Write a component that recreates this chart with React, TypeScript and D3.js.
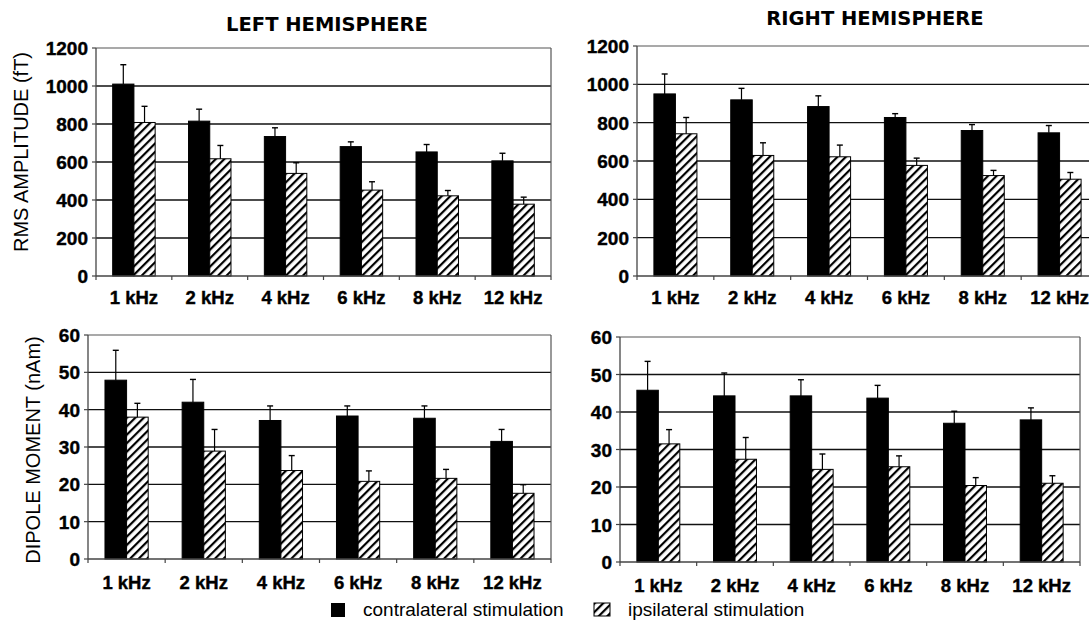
import * as d3 from 'd3';

const freqs = ['1 kHz', '2 kHz', '4 kHz', '6 kHz', '8 kHz', '12 kHz'];

// RMS amplitude (fT), mean and upper SD
const rmsLeftContra = [1010, 815, 734, 681, 653, 606];
const rmsLeftContraErr = [102, 63, 46, 25, 39, 40];
const rmsLeftIpsi = [808, 617, 540, 452, 422, 378];
const rmsLeftIpsiErr = [85, 70, 56, 44, 28, 37];
const rmsRightContra = [950, 919, 884, 827, 759, 747];
const rmsRightContraErr = [104, 60, 56, 20, 31, 38];
const rmsRightIpsi = [742, 629, 622, 577, 524, 505];
const rmsRightIpsiErr = [85, 66, 61, 38, 27, 35];

// dipole moment (nAm)
const dipLeftContra = [47.9, 42.0, 37.1, 38.3, 37.7, 31.5];
const dipLeftContraErr = [8.0, 6.1, 3.9, 2.7, 3.3, 3.2];
const dipLeftIpsi = [38.0, 28.9, 23.7, 20.8, 21.6, 17.6];
const dipLeftIpsiErr = [3.7, 5.8, 4.0, 2.8, 2.4, 2.3];
const dipRightContra = [45.8, 44.3, 44.3, 43.7, 37.0, 37.9];
const dipRightContraErr = [7.7, 6.1, 4.3, 3.4, 3.2, 3.2];
const dipRightIpsi = [31.5, 27.4, 24.7, 25.4, 20.4, 21.0];
const dipRightIpsiErr = [3.8, 5.8, 4.1, 2.9, 2.1, 2.0];

const rmsTicks = [0, 200, 400, 600, 800, 1000, 1200];
const dipTicks = [0, 10, 20, 30, 40, 50, 60];

const series = ['contra', 'ipsi'];
const legendLabels = ['contralateral stimulation', 'ipsilateral stimulation'];

const ARIAL = 'Arial, "Liberation Sans", Helvetica, sans-serif';
const TITLE_FONT = 'Verdana, "DejaVu Sans", sans-serif';

interface PanelProps {
  left: number;
  right: number;
  top: number;
  bottom: number;
  ticks: number[];
  contra: number[];
  contraErr: number[];
  ipsi: number[];
  ipsiErr: number[];
  labelOffset: number;
}

function Panel({ left, right, top, bottom, ticks, contra, contraErr, ipsi, ipsiErr, labelOffset }: PanelProps) {
  const x0 = d3.scaleBand<string>().domain(freqs).range([left, right]);
  const bw = x0.bandwidth();
  const x1 = d3.scaleBand<string>().domain(series).range([bw * 0.22, bw * 0.78]);
  const y = d3.scaleLinear().domain([0, ticks[ticks.length - 1]]).range([bottom, top]);

  const rows = freqs.map((f, i) => [
    { key: 'contra', f, v: contra[i], e: contraErr[i] },
    { key: 'ipsi', f, v: ipsi[i], e: ipsiErr[i] },
  ]).flat();

  return (
    <g>
      {ticks.slice(1, -1).map(t => (
        <line key={'g' + t} x1={left} x2={right} y1={y(t)} y2={y(t)} stroke="#111" strokeWidth={1.4} />
      ))}
      <line x1={left} x2={right} y1={y(ticks[ticks.length - 1])} y2={y(ticks[ticks.length - 1])} stroke="#555" strokeWidth={1.2} />
      <line x1={right} x2={right} y1={top} y2={bottom} stroke="#555" strokeWidth={1.2} />
      {rows.map(r => {
        const bx = x0(r.f)! + x1(r.key)!;
        const w = x1.bandwidth();
        const cx = bx + w / 2;
        return (
          <g key={r.key + r.f}>
            <rect x={bx} y={y(r.v)} width={w} height={bottom - y(r.v)}
              fill={r.key === 'contra' ? '#000' : 'url(#hatch)'} stroke="#000" strokeWidth={1} />
            <line x1={cx} x2={cx} y1={y(r.v)} y2={y(r.v + r.e)} stroke="#000" strokeWidth={1.2} />
            <line x1={cx - 3} x2={cx + 3} y1={y(r.v + r.e)} y2={y(r.v + r.e)} stroke="#000" strokeWidth={1.4} />
          </g>
        );
      })}
      <line x1={left} x2={left} y1={top} y2={bottom} stroke="#444" strokeWidth={1.3} />
      <line x1={left} x2={right} y1={bottom} y2={bottom} stroke="#444" strokeWidth={1.3} />
      {ticks.map(t => (
        <g key={'t' + t}>
          <line x1={left - 4} x2={left} y1={y(t)} y2={y(t)} stroke="#444" strokeWidth={1.2} />
          <text x={left - 8} y={y(t) + 7} textAnchor="end" fontFamily={ARIAL} fontWeight="bold" fontSize={19}
            stroke="#000" strokeWidth={0.4}>{t}</text>
        </g>
      ))}
      {d3.range(freqs.length + 1).map(i => (
        <line key={'xt' + i} x1={left + i * bw} x2={left + i * bw} y1={bottom} y2={bottom + 4} stroke="#444" strokeWidth={1.2} />
      ))}
      {freqs.map(f => (
        <text key={'xl' + f} x={x0(f)! + bw / 2} y={bottom + labelOffset} textAnchor="middle"
          fontFamily={ARIAL} fontWeight="bold" fontSize={18.5} stroke="#000" strokeWidth={0.4}>{f}</text>
      ))}
    </g>
  );
}

export default function App() {
  return (
    <svg width={1089} height={621} style={{ position: 'absolute', left: 0, top: 0, background: '#fff' }}>
      <defs>
        <pattern id="hatch" patternUnits="userSpaceOnUse" width={6} height={6} patternTransform="rotate(45)">
          <rect width={6} height={6} fill="#fff" />
          <line x1={1} y1={0} x2={1} y2={6} stroke="#000" strokeWidth={2.4} />
        </pattern>
      </defs>
      <rect width={1089} height={621} fill="#fff" />

      <text x={327} y={31} textAnchor="middle" fontFamily={TITLE_FONT} fontWeight="bold" fontSize={19.5}>LEFT HEMISPHERE</text>
      <text x={875} y={25} textAnchor="middle" fontFamily={TITLE_FONT} fontWeight="bold" fontSize={19.5}>RIGHT HEMISPHERE</text>

      <text transform="translate(28,152) rotate(-90)" textAnchor="middle" fontFamily={ARIAL} fontSize={20}>RMS AMPLITUDE (fT)</text>
      <text transform="translate(40,450) rotate(-90)" textAnchor="middle" fontFamily={ARIAL} fontSize={20}>DIPOLE MOMENT (nAm)</text>

      <Panel left={96} right={551} top={48} bottom={276} ticks={rmsTicks}
        contra={rmsLeftContra} contraErr={rmsLeftContraErr} ipsi={rmsLeftIpsi} ipsiErr={rmsLeftIpsiErr} labelOffset={28} />
      <Panel left={637} right={1098} top={46} bottom={276} ticks={rmsTicks}
        contra={rmsRightContra} contraErr={rmsRightContraErr} ipsi={rmsRightIpsi} ipsiErr={rmsRightIpsiErr} labelOffset={28} />
      <Panel left={88} right={551} top={335} bottom={559} ticks={dipTicks}
        contra={dipLeftContra} contraErr={dipLeftContraErr} ipsi={dipLeftIpsi} ipsiErr={dipLeftIpsiErr} labelOffset={30} />
      <Panel left={620} right={1080} top={337} bottom={562} ticks={dipTicks}
        contra={dipRightContra} contraErr={dipRightContraErr} ipsi={dipRightIpsi} ipsiErr={dipRightIpsiErr} labelOffset={30} />

      <rect x={331} y={603} width={14} height={14} fill="#000" />
      <text x={363} y={616} fontFamily={ARIAL} fontSize={19}>{legendLabels[0]}</text>
      <rect x={594} y={603} width={16} height={13} fill="url(#hatch)" stroke="#000" strokeWidth={1} />
      <text x={628} y={616} fontFamily={ARIAL} fontSize={19}>{legendLabels[1]}</text>
    </svg>
  );
}
